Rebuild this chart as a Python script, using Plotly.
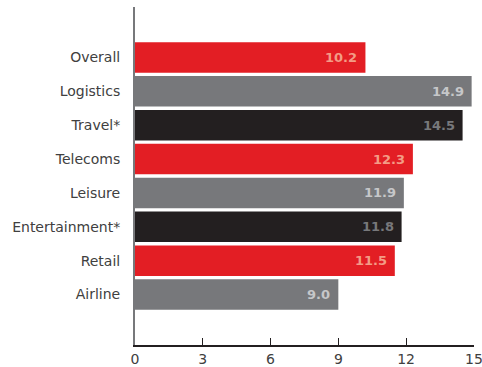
import plotly.graph_objects as go

categories = ["Overall", "Logistics", "Travel*", "Telecoms", "Leisure", "Entertainment*", "Retail", "Airline"]
values = [10.2, 14.9, 14.5, 12.3, 11.9, 11.8, 11.5, 9.0]
bar_colors = ["#e31e24", "#77787b", "#231f20", "#e31e24", "#77787b", "#231f20", "#e31e24", "#77787b"]
label_colors = ["#f39c86", "#c6c7c9", "#77787b", "#f39c86", "#c6c7c9", "#77787b", "#f39c86", "#c6c7c9"]
x_ticks = [0, 3, 6, 9, 12, 15]

FONT = "DejaVu Sans"

fig = go.Figure()
fig.add_trace(go.Bar(
    x=values, y=categories, orientation="h",
    marker=dict(color=bar_colors, line=dict(width=0)),
    width=0.9, hoverinfo="skip",
))

for c, v, lc in zip(categories, values, label_colors):
    fig.add_annotation(
        x=v, y=c, text=f"<b>{v:.1f}</b>", showarrow=False,
        xanchor="right", xshift=-6, yshift=0,
        font=dict(family=FONT, size=13, color=lc),
    )

n = len(categories)
fig.update_layout(
    width=482, height=367,
    margin=dict(l=135, r=8, t=7, b=22, autoexpand=False),
    paper_bgcolor="white", plot_bgcolor="white",
    showlegend=False,
    font=dict(family=FONT, size=14, color="#404040"),
    xaxis=dict(
        range=[0, 15.005], tickvals=x_ticks, ticks="inside", ticklen=7,
        tickcolor="#231f20", showline=True, linecolor="#231f20", linewidth=1.5,
        showgrid=False, zeroline=False, tickfont=dict(size=14, color="#404040"),
        ticklabeloverflow="allow", automargin=False,
    ),
    yaxis=dict(
        categoryorder="array", categoryarray=categories,
        range=[n - 1 + 1.49, -1.49], showline=True, linecolor="#77787b", linewidth=2,
        showgrid=False, zeroline=False, ticks="", ticklabelstandoff=10,
        tickfont=dict(size=14, color="#404040"), automargin=False,
    ),
)

fig.write_html("out.html")
